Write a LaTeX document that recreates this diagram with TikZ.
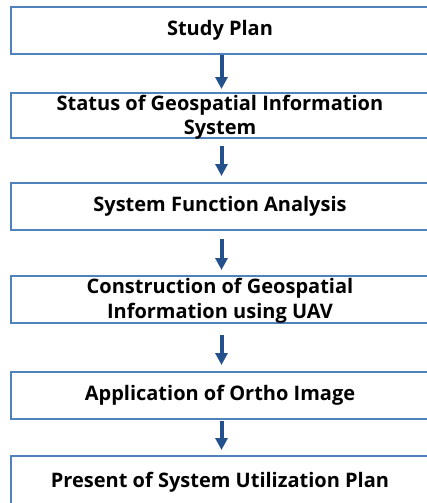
\documentclass[tikz,border=0pt]{standalone}
\usepackage{fontspec}
\setmainfont{Open Sans}
\usetikzlibrary{arrows.meta}
\definecolor{boxblue}{HTML}{4F81BD}
\definecolor{arrblue}{HTML}{24508C}
\begin{document}
\begin{tikzpicture}[x=1pt,y=-1pt,
  txt/.style={font=\bfseries\fontsize{20}{24.5}\selectfont,align=center,text=black},
  stepbox/.style={draw=boxblue,line width=2pt,rectangle,minimum width=418pt,inner sep=0pt,txt},
  flow/.style={draw=arrblue,line width=4pt,-{Triangle[width=12pt,length=12pt]}}]
\useasboundingbox (0,0) rectangle (427,503);
\clip (0,0) rectangle (427,503);
\node[stepbox,minimum height=46.5pt] (b1) at (220,30.75) {Study Plan};
\node[stepbox,minimum height=45pt] (b2) at (220,115.5) {};
\node[txt,inner sep=0pt] (t2) at (220,117.5) {Status of Geospatial Information\\System};
\node[stepbox,minimum height=47pt] (b3) at (220,206.5) {System Function Analysis};
\node[stepbox,minimum height=47pt] (b4) at (220,299.5) {};
\node[txt,inner sep=0pt] (t4) at (220,300.5) {Construction of Geospatial\\Information using UAV};
\node[stepbox,minimum height=47pt] (b5) at (220,395.5) {Application of Ortho Image};
\node[stepbox,minimum height=52pt] (b6) at (220,482) {Present of System Utilization Plan};
\draw[flow] ([xshift=1.5pt]b1.south) -- ([xshift=1.5pt,yshift=3pt]b2.north);
\draw[flow] ([xshift=1.5pt,yshift=-7pt]b2.south) -- ([xshift=1.5pt,yshift=6pt]b3.north);
\draw[flow] ([xshift=1.5pt,yshift=-8pt]b3.south) -- ([xshift=1.5pt,yshift=5pt]b4.north);
\draw[flow] ([xshift=1.5pt,yshift=-11pt]b4.south) -- ([xshift=1.5pt,yshift=6pt]b5.north);
\draw[flow] ([xshift=1.5pt,yshift=-1pt]b5.south) -- ([xshift=1.5pt,yshift=5pt]b6.north);
\end{tikzpicture}
\end{document}
